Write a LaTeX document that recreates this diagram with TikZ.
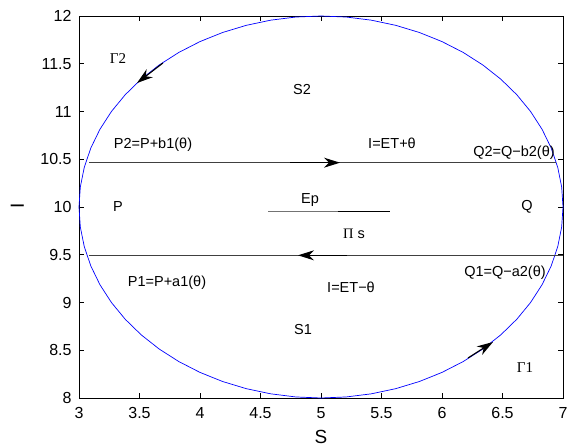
\documentclass[tikz,border=0pt]{standalone}
\usepackage{fontspec}
\setmainfont{Liberation Sans}
\newfontfamily\serifgreek{Liberation Serif}
\usetikzlibrary{arrows.meta}
\tikzset{
  lbl/.style={font=\fontsize{14.5}{16}\selectfont, inner sep=0pt},
  glbl/.style={font=\serifgreek\fontsize{15}{17}\selectfont, inner sep=0pt},
  ticklbl/.style={font=\fontsize{16}{18}\selectfont, inner sep=0pt},
  axlbl/.style={font=\fontsize{19}{21}\selectfont, inner sep=0pt},
  guide/.style={black!75, line width=0.8pt},
  flow/.style={black, line width=1.1pt, -{Stealth[length=16pt,width=10pt,inset=5pt]}},
  curve/.style={blue, line width=0.7pt},
  frame/.style={black, line width=0.9pt}
}
\begin{document}
\begin{tikzpicture}[x=1pt,y=-1pt]
\useasboundingbox (0,0) rectangle (576,446);
\fill[white] (0,0) rectangle (576,446);
\begin{scope}[shift={(-284pt,-1162pt)}, x=121pt, y=95.5pt]
  % frame
  \draw[frame] (3,8) rectangle (7,12);
  \foreach \t in {3.5,4,4.5,5,5.5,6,6.5} {
    \draw[frame] (\t,8) -- ++(0,0.055);
    \draw[frame] (\t,12) -- ++(0,-0.055);
  }
  \foreach \t in {8.5,9,9.5,10,10.5,11,11.5} {
    \draw[frame] (3,\t) -- ++(0.045,0);
    \draw[frame] (7,\t) -- ++(-0.045,0);
  }
  \foreach \t in {3,3.5,4,4.5,5,5.5,6,6.5,7}
    \node[ticklbl, anchor=north] (xt\t) at (\t,7.90) {\t};
  \foreach \t in {8,8.5,9,9.5,10,10.5,11,11.5,12}
    \node[ticklbl, anchor=east] (yt\t) at (2.94,\t) {\t};
  \node[axlbl] (xlab) at (5,7.595) {S};
  \node[axlbl, rotate=90] (ylab) at (2.49,10.01) {I};
  % ellipse
  \draw[curve] plot[domain=0:360, samples=61] ({5+2*cos(\x)},{10+2*sin(\x)});
  % horizontal lines
  \coordinate (uL) at (3.083,10.464);
  \coordinate (uR) at (6.942,10.464);
  \coordinate (uA) at (4.744,10.464);
  \coordinate (uB) at (5.157,10.464);
  \coordinate (lL) at (3.083,9.494);
  \coordinate (lR) at (7,9.494);
  \coordinate (lA) at (5.215,9.494);
  \coordinate (lB) at (4.810,9.494);
  \draw[guide] (uL) -- (uR);
  \draw[guide] (lL) -- (lR);
  \draw[flow] (uA) -- (uB);
  \draw[flow] (lA) -- (lB);
  % Ep segment
  \coordinate (eL) at (4.562,9.951);
  \coordinate (eM) at (5.140,9.951);
  \coordinate (eR) at (5.570,9.951);
  \draw[black!55, line width=0.8pt] (eL) -- (eM);
  \draw[black, line width=0.8pt] (eM) -- (eR);
  % Gamma arrows
  \coordinate (g2t) at (3.694,11.508);
  \coordinate (g2h) at (3.479,11.298);
  \coordinate (g1t) at (6.215,8.419);
  \coordinate (g1h) at (6.421,8.586);
  \draw[flow] (g2t) -- (g2h);
  \draw[flow] (g1t) -- (g1h);
\end{scope}
% labels (pixel coordinates)
\node[glbl] (G2) at (118,59) {Γ2};
\node[lbl] (S2) at (302,90) {S2};
\node[lbl] (P2) at (153,145) {P2=P+b1(θ)};
\node[lbl] (Ip) at (392,143) {I=ET+θ};
\node[lbl] (Q2) at (514,153) {Q2=Q−b2(θ)};
\node[lbl] (P) at (118,207) {P};
\node[lbl] (Ep) at (310,200) {Ep};
\node[lbl] (Q) at (527,207) {Q};
\node[lbl] (Pis) at (354,234) {{\serifgreek Π} s};
\node[lbl] (Q1) at (505,273) {Q1=Q−a2(θ)};
\node[lbl] (P1) at (167,283) {P1=P+a1(θ)};
\node[lbl] (Im) at (351,287) {I=ET−θ};
\node[lbl] (S1) at (303,330) {S1};
\node[glbl] (G1) at (525,368) {Γ1};
\end{tikzpicture}
\end{document}
